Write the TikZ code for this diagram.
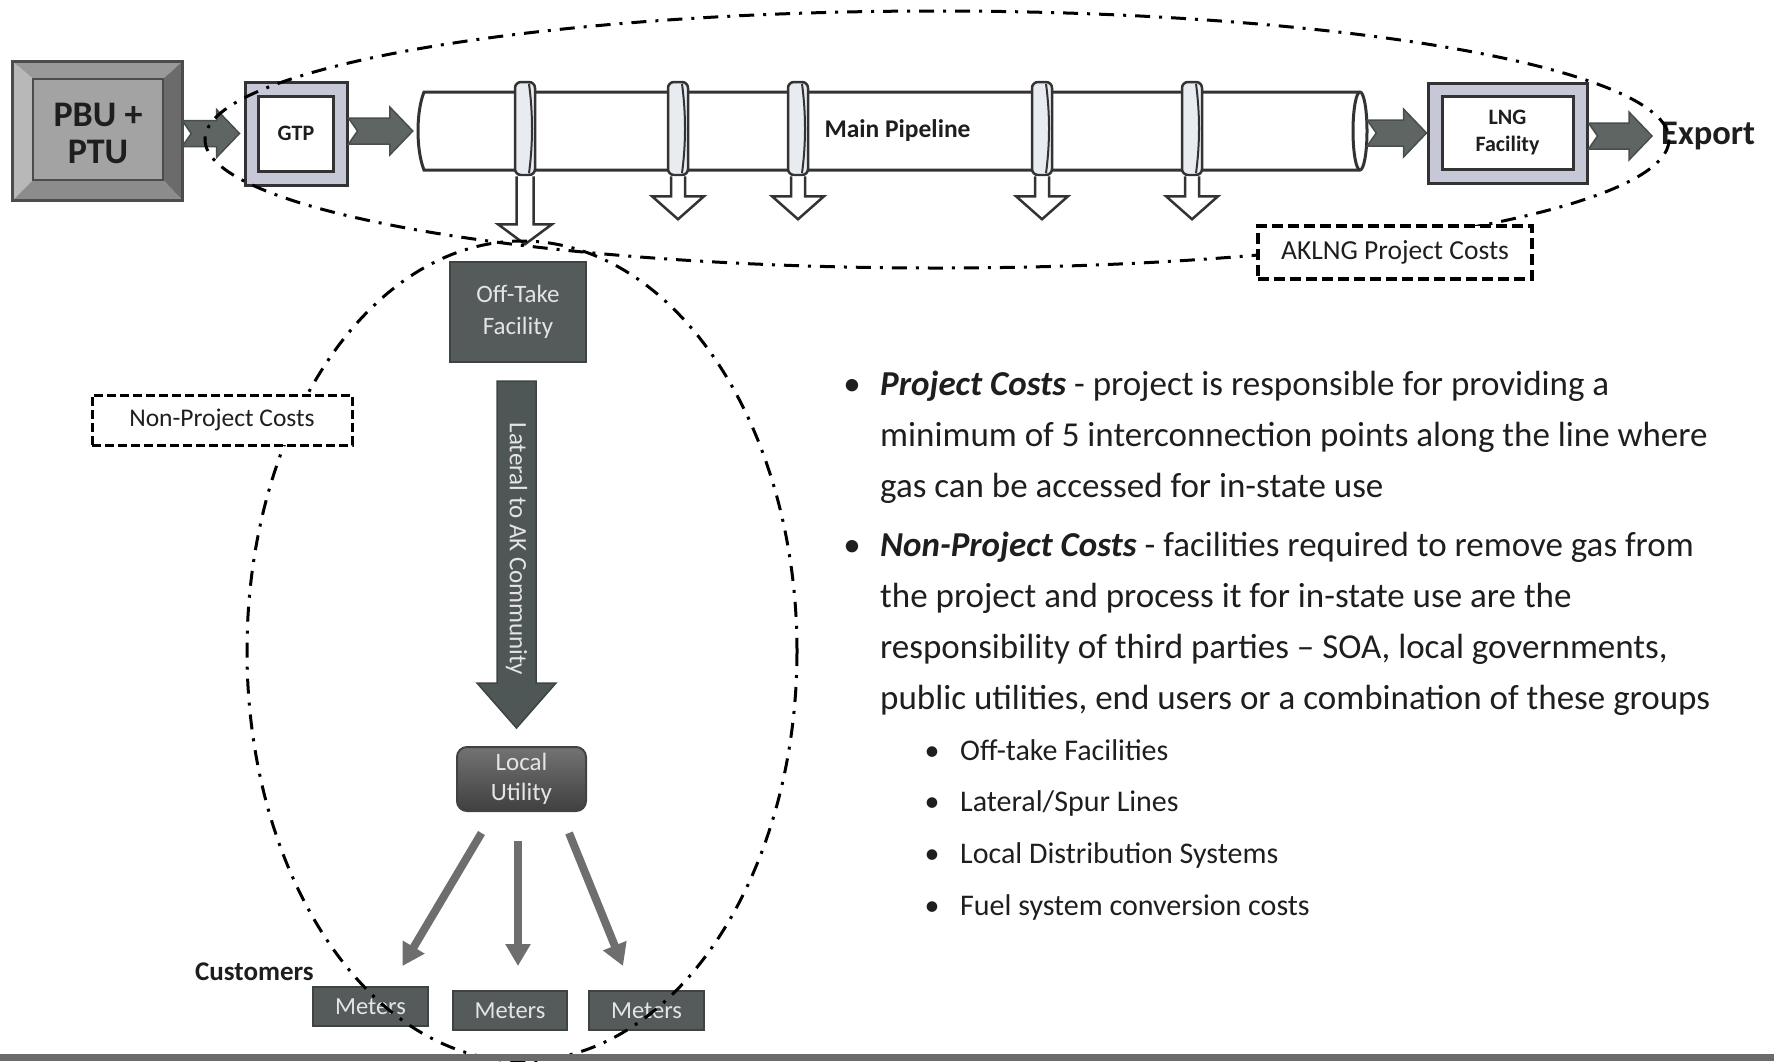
\documentclass[tikz,border=0pt]{standalone}
\usepackage{fontspec}
\setmainfont{Carlito}
\usetikzlibrary{calc,arrows.meta}

\definecolor{linedark}{HTML}{333333}
\definecolor{textdark}{HTML}{1E1E1E}
\definecolor{boxdark}{HTML}{555B5B}
\definecolor{boxline}{HTML}{3E4444}
\definecolor{boxtext}{HTML}{E4E4E4}
\definecolor{chevfill}{HTML}{5E6562}
\definecolor{chevline}{HTML}{484E4C}
\definecolor{framefill}{HTML}{C6C8D8}
\definecolor{ringfill}{HTML}{E8ECF0}
\definecolor{arrowgray}{HTML}{6E6E6E}
\definecolor{latfill}{HTML}{4F5756}
\definecolor{bargray}{HTML}{6B6B6B}

% block arrow with notched tail, drawn between two anchors
\newcommand{\chevarrow}[2]{%
  \path[chevron] let \p1=(#1), \p2=(#2) in
    (\x1,\y2+13) -- (\x2-23,\y2+13) -- (\x2-23,\y2+24) -- (\x2,\y2)
    -- (\x2-23,\y2-24) -- (\x2-23,\y2-13) -- (\x1,\y2-13) -- (\x1+9,\y2) -- cycle;}

\tikzset{
  every node/.style={inner sep=0pt},
  dashdot/.style={draw=black, line width=3pt, dash pattern=on 15pt off 9pt on 3pt off 9pt},
  chevron/.style={fill=chevfill, draw=chevline, line width=1.5pt},
  frameout/.style={draw=linedark, line width=3pt, fill=framefill},
  framein/.style={draw=linedark, line width=3pt, fill=white, align=center, text=textdark},
  pipeline/.style={draw=linedark, line width=3pt, fill=white},
  tap/.style={draw=linedark, line width=2.5pt, fill=ringfill, rounded corners=6pt,
    minimum width=20pt, minimum height=93pt},
  openarrow/.style={draw=linedark, line width=2.5pt, fill=white},
  darkbox/.style={draw=boxline, line width=2pt, fill=boxdark, text=boxtext, align=center,
    font=\fontsize{25}{32}\selectfont},
  costbox/.style={draw=black, fill=white, text=textdark},
  meterarrow/.style={draw=arrowgray, line width=8pt, -{Triangle[width=24pt,length=22pt]}},
  bodytext/.style={anchor=base west, text=textdark, font=\fontsize{35}{51}\selectfont},
  subtext/.style={anchor=base west, text=textdark, font=\fontsize{30}{51}\selectfont},
}

\begin{document}
\begin{tikzpicture}[x=1pt, y=-1pt]
\useasboundingbox (0,0) rectangle (1774,1061);

% PBU + PTU bevelled block
\node[minimum width=169, minimum height=138] (pbu) at (97.5,131) {};
\fill[black!40] (pbu.north west) -- (pbu.north east) -- ($(pbu.north east)+(-19,17)$) -- ($(pbu.north west)+(20,17)$) -- cycle;
\fill[black!28] (pbu.north west) -- ($(pbu.north west)+(20,17)$) -- ($(pbu.south west)+(20,-20)$) -- (pbu.south west) -- cycle;
\fill[black!58] (pbu.north east) -- ($(pbu.north east)+(-19,17)$) -- ($(pbu.south east)+(-19,-20)$) -- (pbu.south east) -- cycle;
\fill[black!45] (pbu.south west) -- ($(pbu.south west)+(20,-20)$) -- ($(pbu.south east)+(-19,-20)$) -- (pbu.south east) -- cycle;
\draw[fill=black!36, draw=black!70, line width=1.5pt] ($(pbu.north west)+(20,17)$) rectangle ($(pbu.south east)+(-19,-20)$);
\draw[black!70, line width=3pt] (pbu.north west) rectangle (pbu.south east);
\node[font=\bfseries\fontsize{36}{37}\selectfont, align=center, text=textdark] (pbutext) at (98,133) {PBU +\\PTU};

% GTP
\node[frameout, minimum width=102, minimum height=103] (gtp) at (296,133.5) {};
\node[framein, minimum width=75, minimum height=75, font=\bfseries\fontsize{22}{26}\selectfont] (gtpin) at (gtp) {GTP};

% main pipeline
\draw[pipeline] (424,92) -- (1360,92) arc[start angle=-90, end angle=90, x radius=7, y radius=39]
  -- (424,170) .. controls (416,150) and (416,112) .. (424,92) -- cycle;
\draw[pipeline] (1360,92) arc[start angle=-90, end angle=-270, x radius=7, y radius=39];
\node[minimum width=949, minimum height=78, font=\bfseries\fontsize{25.5}{30}\selectfont, text=textdark] (pipe) at (892.5,131) {\hspace*{10pt}Main Pipeline};

% off-take points
\foreach \k/\x in {1/525, 2/678, 3/798, 4/1042, 5/1192}
  \node[tap] (tap\k) at (\x,128.5) {};
\foreach \k in {1,...,5}
  \draw[linedark, line width=2pt] ($(tap\k.north)+(4,3)$) .. controls +(4,30) and +(4,-30) .. ($(tap\k.south)+(4,-3)$);
\draw[openarrow] let \p1=(tap1.south) in (\x1-8.5,\y1) -- (\x1-8.5,\y1-48) -- (\x1-27,\y1-48)
  -- (\x1,\y1-68) -- (\x1+27,\y1-48) -- (\x1+8.5,\y1-48) -- (\x1+8.5,\y1);
\foreach \k in {2,3,4,5}
  \draw[openarrow] let \p1=(tap\k.south) in (\x1-7,\y1) -- (\x1-7,\y1-20) -- (\x1-26,\y1-20)
    -- (\x1,\y1-43) -- (\x1+26,\y1-20) -- (\x1+7,\y1-20) -- (\x1+7,\y1);

% LNG and export
\node[frameout, minimum width=159, minimum height=100] (lng) at (1507.5,133) {};
\node[framein, minimum width=131, minimum height=73, font=\bfseries\fontsize{22}{27}\selectfont] (lngin) at (lng) {LNG\\Facility};
\node[anchor=west, font=\bfseries\fontsize{34.5}{40}\selectfont, text=textdark] (export) at (1661,136) {Export};

\chevarrow{pbu.east}{$(gtp.west)+(-4,0)$}
\chevarrow{gtp.east}{$(pipe.west)+(-5,0)$}
\chevarrow{pipe.east}{lng.west}
\chevarrow{lng.east}{$(export.west)+(-9,0)$}

% project boundary
\draw[dashdot] (937,139.5) ellipse [x radius=732, y radius=128.5];
\node[costbox, line width=3.5pt, dash pattern=on 11pt off 5pt, minimum width=274, minimum height=53,
  font=\fontsize{27.5}{30}\selectfont] (aklng) at (1395,252.5) {AKLNG Project Costs};

% in-state branch
\node[darkbox, minimum width=136, minimum height=100] (offtake) at (518,312) {Off-Take\\Facility};
\coordinate (lattip) at (516.5,728);
\path[fill=latfill, draw=boxline, line width=1.5pt] let \p1=(offtake.south), \p2=(lattip) in
  (\x2-19.5,\y1-18) -- (\x2-19.5,\y2+45) -- (\x2-39.5,\y2+45) -- (\x2,\y2)
  -- (\x2+39.5,\y2+45) -- (\x2+19.5,\y2+45) -- (\x2+19.5,\y1-18) -- cycle;
\node[rotate=-90, text=boxtext, font=\fontsize{25}{30}\selectfont] (lateral) at (516.5,549) {Lateral to AK Community};

\node[darkbox, rounded corners=10pt, draw=boxline, top color=black!55, bottom color=black!75,
  minimum width=129, minimum height=64, font=\fontsize{25}{30}\selectfont] (util) at (521.5,779) {Local\\Utility};

\node[darkbox, minimum width=115, minimum height=39, font=\fontsize{24.5}{30}\selectfont] (m1) at (370.5,1006.5) {Meters};
\node[darkbox, minimum width=114, minimum height=39, font=\fontsize{24.5}{30}\selectfont] (m2) at (510,1010.5) {Meters};
\node[darkbox, minimum width=115, minimum height=39, font=\fontsize{24.5}{30}\selectfont] (m3) at (646.5,1010.5) {Meters};

\draw[meterarrow] ($(util.south)+(-40,21)$) -- ($(m1.north)+(32,-20)$);
\draw[meterarrow] ($(util.south)+(-3.5,29)$) -- ($(m2.north)+(8,-24)$);
\draw[meterarrow] ($(util.south)+(47.5,21)$) -- ($(m3.north)+(-23.5,-24)$);

\node[anchor=base west, font=\bfseries\fontsize{27}{30}\selectfont, text=textdark] (customers) at (195,980) {Customers};

% non-project boundary
\draw[dashdot] (522,651) ellipse [x radius=275, y radius=410];
\node[costbox, line width=3pt, dash pattern=on 9pt off 4pt, minimum width=260, minimum height=50,
  font=\fontsize{25.5}{28}\selectfont] (nonproj) at (222,420) {Non-Project Costs};

\fill[bargray] (0,1054) rectangle (1774,1061);

% bullet text
\foreach \y in {395, 556}
  \node[bodytext, anchor=base] at (852,\y) {•};
\node[bodytext] (pc1) at (880,395) {\textbf{\textit{Project Costs}} - project is responsible for providing a};
\node[bodytext] (pc2) at (880,446) {minimum of 5 interconnection points along the line where};
\node[bodytext] (pc3) at (880,497) {gas can be accessed for in-state use};
\node[bodytext] (npc1) at (880,556) {\textbf{\textit{Non-Project Costs}} - facilities required to remove gas from};
\node[bodytext] (npc2) at (880,607) {the project and process it for in-state use are the};
\node[bodytext] (npc3) at (880,658) {responsibility of third parties – SOA, local governments,};
\node[bodytext] (npc4) at (880,709) {public utilities, end users or a combination of these groups};

\foreach \y/\txt [count=\i] in {760/Off-take Facilities, 811/Lateral\slash Spur Lines,
    863/Local Distribution Systems, 915/Fuel system conversion costs} {
  \node[subtext, anchor=base] at (932,\y) {•};
  \node[subtext] (sub\i) at (960,\y) {\txt};
}
\end{tikzpicture}
\end{document}
